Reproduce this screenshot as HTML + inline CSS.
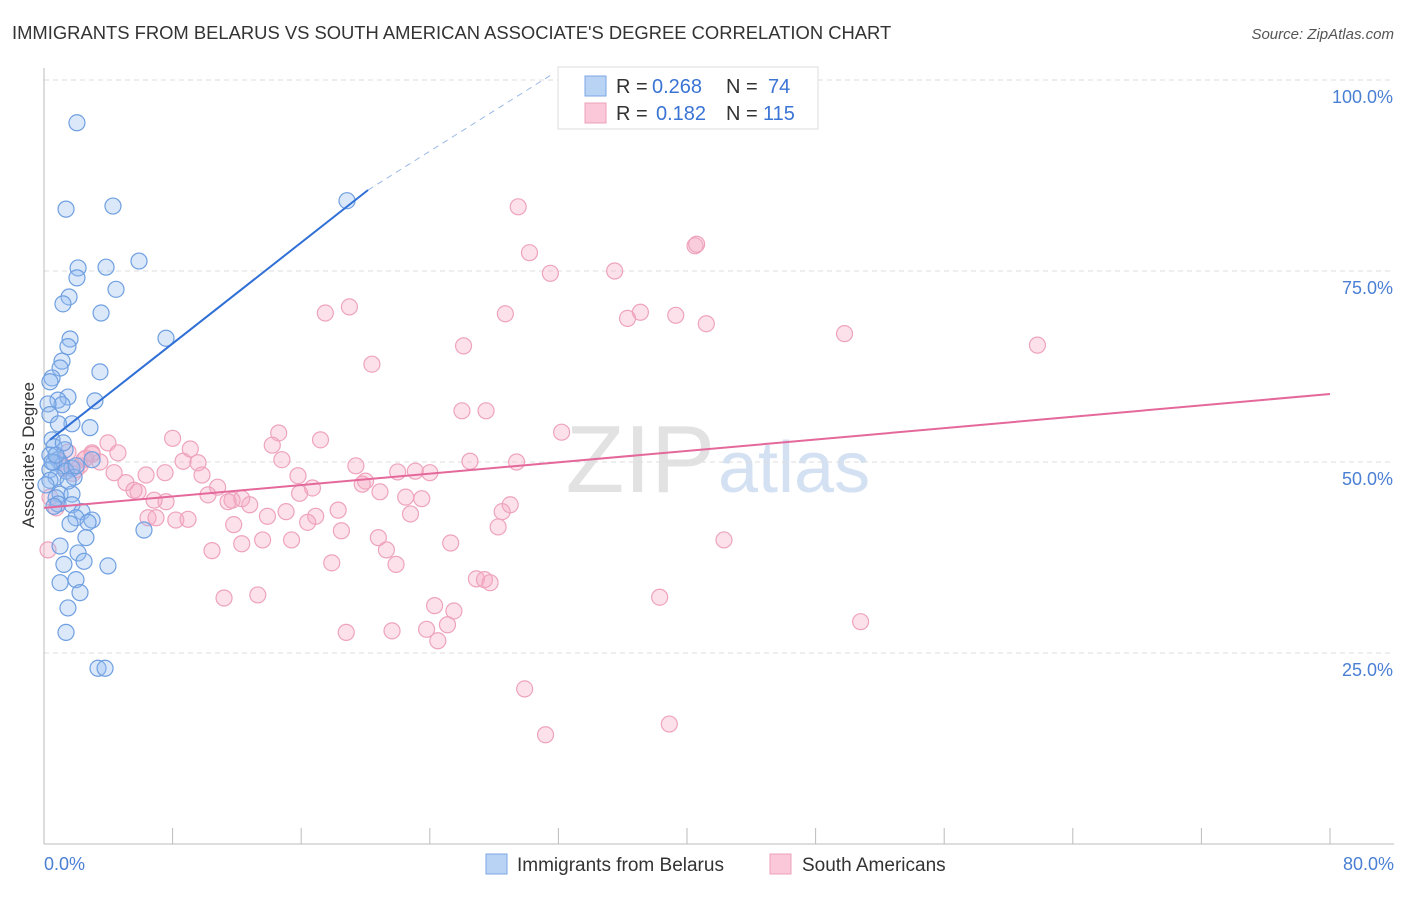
<!DOCTYPE html>
<html><head><meta charset="utf-8"><style>
body{margin:0;background:#fff;font-family:"Liberation Sans",sans-serif;}
svg text{font-family:"Liberation Sans",sans-serif;}
</style></head><body>
<svg id="chart" width="1406" height="892">
<text x="12" y="39" font-size="18.4" fill="#333">IMMIGRANTS FROM BELARUS VS SOUTH AMERICAN ASSOCIATE'S DEGREE CORRELATION CHART</text>
<text x="1394" y="39" font-size="15" fill="#555" font-style="italic" text-anchor="end">Source: ZipAtlas.com</text>
<text x="715" y="492" font-size="96" fill="#e2e2e2" font-family="Liberation Serif" text-anchor="end">ZIP</text>
<text x="718" y="492" font-size="72" fill="#d3e1f3">atlas</text>
<g id="grid"></g>
<g id="axes"></g>
<g id="pts"></g>
<g id="trends"></g>
<text transform="translate(34,455) rotate(-90)" font-size="17" fill="#333" text-anchor="middle">Associate's Degree</text>
<text x="44" y="870" font-size="18" fill="#4a7fd4">0.0%</text>
<text x="1394" y="870" font-size="18" fill="#4a7fd4" text-anchor="end">80.0%</text>
<g>
<rect x="558" y="67" width="260" height="62" fill="#fff" stroke="#ddd"/>
<rect x="585" y="76" width="21" height="20" fill="#b9d3f5" stroke="#7da7e6"/>
<rect x="585" y="103" width="21" height="20" fill="#fac8d8" stroke="#eca0b8"/>
<text x="616" y="93" font-size="20" fill="#333">R =</text>
<text x="652" y="93" font-size="20" fill="#3a74d4">0.268</text>
<text x="726" y="93" font-size="20" fill="#333">N =</text>
<text x="768" y="93" font-size="20" fill="#3a74d4">74</text>
<text x="616" y="120" font-size="20" fill="#333">R =</text>
<text x="656" y="120" font-size="20" fill="#3a74d4">0.182</text>
<text x="726" y="120" font-size="20" fill="#333">N =</text>
<text x="763" y="120" font-size="20" fill="#3a74d4">115</text>
</g>
<g>
<rect x="486" y="854" width="21" height="20" fill="#b9d3f5" stroke="#7da7e6"/>
<text x="517" y="871" font-size="19" fill="#333">Immigrants from Belarus</text>
<rect x="770" y="854" width="21" height="20" fill="#fac8d8" stroke="#eca0b8"/>
<text x="802" y="871" font-size="19" fill="#333">South Americans</text>
</g>
</svg>
<script>
const yTicks=[25,50,75,100];
const yTickLabels=["25.0%","50.0%","75.0%","100.0%"];
const xTicks=[0,8,16,24,32,40,48,56,64,72,80];
const blueX=[2.05,1.37,4.29,18.85,2.12,3.86,5.91,2.05,4.48,1.56,1.18,3.55,1.62,7.59,1.49,1.12,1.0,3.48,0.5,0.37,1.49,0.87,3.17,1.12,0.25,0.37,1.74,2.86,0.5,0.62,1.31,0.37,0.87,0.62,1.12,1.74,0.37,1.37,0.75,1.87,2.99,1.0,1.74,0.75,0.87,0.62,1.74,2.36,1.99,2.99,2.74,1.62,6.22,2.61,1.0,2.12,2.49,1.24,3.98,1.0,1.99,2.24,1.49,1.37,3.36,3.8,0.37,0.12,0.5,0.75,1.2,0.9,2.0,1.5];
const blueY=[94.4,83.1,83.5,84.2,75.4,75.5,76.3,74.1,72.6,71.6,70.7,69.5,66.1,66.2,65.1,63.2,62.3,61.8,61.0,60.5,58.5,58.1,58.0,57.5,57.6,56.2,55.0,54.5,52.9,52.0,51.6,50.9,50.3,49.9,49.5,49.2,49.0,48.8,48.0,48.0,50.3,45.8,45.8,45.3,44.5,44.2,44.4,43.5,42.7,42.4,42.1,41.9,41.1,40.1,39.0,38.1,37.0,36.6,36.4,34.2,34.6,32.9,30.9,27.7,23.0,23.0,47.6,47.0,50.0,50.9,52.5,55.0,49.5,47.5];
const pinkX=[29.5,40.5,40.6,30.2,35.5,31.5,19.0,17.5,28.7,37.1,36.3,39.3,41.2,49.8,61.8,26.1,20.4,26.0,27.5,32.2,8.0,14.6,17.2,3.98,9.1,14.2,1.49,2.99,4.6,2.49,3.48,8.65,9.58,14.8,26.5,29.4,1.0,2.24,1.24,19.4,22.0,23.1,24.0,7.53,6.35,9.83,4.36,5.1,5.6,5.85,10.8,15.8,20.0,19.8,16.7,10.2,20.9,22.5,23.5,12.3,11.7,7.59,6.85,15.9,11.45,12.8,29.0,28.5,18.3,13.9,15.06,8.2,8.96,6.47,6.97,16.9,22.8,16.4,28.25,11.8,13.6,15.4,18.5,20.8,12.3,25.3,42.3,10.45,21.3,17.9,21.9,26.9,27.4,27.75,11.2,13.3,38.3,24.3,25.5,50.8,18.8,21.65,23.8,25.1,24.5,29.9,38.9,31.2,0.25,0.37,0.75,2.0,3.0,1.8,2.6];
const pinkY=[83.4,78.3,78.5,77.4,75.0,74.7,70.3,69.5,69.4,69.6,68.8,69.2,68.1,66.8,65.3,65.2,62.8,56.7,56.7,53.9,53.1,53.8,52.9,52.5,51.7,52.2,51.3,51.2,51.2,50.3,50.0,50.1,49.9,50.3,50.1,50.0,50.0,49.5,49.2,49.5,48.7,48.8,48.6,48.6,48.3,48.3,48.6,47.3,46.3,46.1,46.7,48.2,47.5,47.1,46.6,45.7,46.1,45.4,45.2,45.2,45.0,44.8,45.0,45.9,44.8,44.4,44.4,43.5,43.7,42.9,43.5,42.4,42.5,42.7,42.7,42.9,43.2,42.1,41.5,41.8,39.8,39.8,41.0,40.1,39.3,39.4,39.8,38.4,38.5,36.8,36.6,34.7,34.6,34.2,32.2,32.6,32.3,31.2,30.5,29.1,27.7,27.9,28.1,28.7,26.6,20.3,15.7,14.3,38.5,45.4,44.0,49.0,51.0,48.5,50.5];
const blueTrend=[[0.37,52.9],[20.16,85.6]];
const blueDash=[[20.16,85.6],[31.5,100.6]];
const pinkTrend=[[0,44.0],[80,58.9]];
const X0=44,X1=1330,Y0=844,YS=7.64;
const sx=v=>X0+(X1-X0)*v/80, sy=v=>Y0-v*YS;
const NS="http://www.w3.org/2000/svg";
function mk(t,a,p){const e=document.createElementNS(NS,t);for(const k in a)e.setAttribute(k,a[k]);p.appendChild(e);return e;}
const grid=document.getElementById('grid'),axes=document.getElementById('axes'),pts=document.getElementById('pts'),tr=document.getElementById('trends');
yTicks.forEach((v,i)=>{
 const l=mk('line',{x1:X0,x2:1394,y1:sy(v),y2:sy(v),stroke:'#ddd','stroke-dasharray':'5,4'},grid);
 
 
 const t=mk('text',{x:1393,y:sy(v)+23,'font-size':18,fill:'#4a7fd4','text-anchor':'end'},grid);
 t.textContent=yTickLabels[i];
 
 
});
const ya=mk('line',{x1:X0,x2:X0,y1:68,y2:Y0,stroke:'#bbb'},axes);


const xa=mk('line',{x1:X0,x2:1394,y1:Y0,y2:Y0,stroke:'#bbb'},axes);


xTicks.forEach(v=>{
 const t=mk('line',{x1:sx(v),x2:sx(v),y1:Y0,y2:Y0-16,stroke:'#bbb'},axes);
 
 
});
pinkX.forEach((x,i)=>{
 const c=mk('circle',{cx:sx(x),cy:sy(pinkY[i]),r:8,fill:'rgba(246,170,196,0.35)',stroke:'#eea3bd','stroke-width':1.2},pts);
 
 
});
blueX.forEach((x,i)=>{
 const c=mk('circle',{cx:sx(x),cy:sy(blueY[i]),r:8,fill:'rgba(150,190,240,0.35)',stroke:'#6f9fe0','stroke-width':1.2},pts);
 
 
});
const bl=mk('line',{x1:sx(blueTrend[0][0]),y1:sy(blueTrend[0][1]),x2:sx(blueTrend[1][0]),y2:sy(blueTrend[1][1]),stroke:'#2f6fd6','stroke-width':2},tr);


const bd=mk('line',{x1:sx(blueDash[0][0]),y1:sy(blueDash[0][1]),x2:sx(blueDash[1][0]),y2:sy(blueDash[1][1]),stroke:'#9bb8e6','stroke-width':1,'stroke-dasharray':'6,5'},tr);


const pl=mk('line',{x1:sx(pinkTrend[0][0]),y1:sy(pinkTrend[0][1]),x2:sx(pinkTrend[1][0]),y2:sy(pinkTrend[1][1]),stroke:'#e4699a','stroke-width':2},tr);


</script>
</body></html>
